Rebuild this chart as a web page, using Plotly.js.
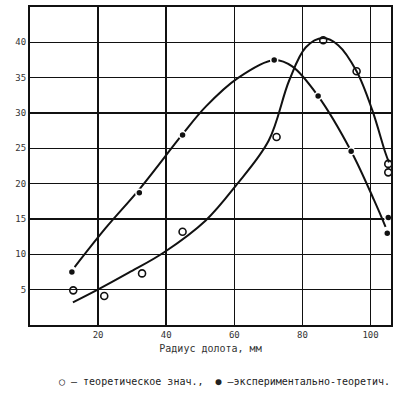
<!DOCTYPE html>
<html>
<head>
<meta charset="utf-8">
<script src="https://cdn.plot.ly/plotly-3.0.1.min.js"></script>
<style>html,body{margin:0;padding:0;background:#fff;}#chart{width:410px;height:408px;}</style>
</head>
<body>
<div id="chart"></div>
<script>
// Theoretical values (open circles)
var theoryX = [12.7, 21.8, 32.9, 44.8, 72.4, 86.1, 95.9, 105.2, 105.2];
var theoryY = [4.9, 4.1, 7.3, 13.2, 26.6, 40.3, 35.9, 22.8, 21.6];
// Experimental-theoretical values (filled circles)
var expX = [12.3, 32.1, 44.8, 71.7, 84.6, 94.3, 105.2, 104.9];
var expY = [7.5, 18.7, 26.9, 37.5, 32.4, 24.6, 15.2, 13.0];
// Hand-drawn curves
var theoryCurveX = [12.6, 19.9, 29.0, 39.4, 51.6, 60.4, 70.1, 76.1, 81.0, 86.0, 90.5, 95.9, 100.5, 104.4, 105.4];
var theoryCurveY = [3.2, 5.0, 7.4, 10.3, 14.8, 19.7, 26.1, 34.6, 39.3, 40.6, 39.6, 35.9, 30.4, 24.3, 23.0];
var expCurveX = [13.1, 22.0, 32.1, 44.8, 51.6, 60.9, 71.7, 77.0, 84.6, 94.3, 101.0, 104.4];
var expCurveY = [8.2, 13.6, 19.2, 27.0, 30.9, 34.9, 37.5, 36.6, 32.4, 24.6, 17.7, 13.9];
// Ticks and labels
var xTicks = [20, 40, 60, 80, 100];
var yTicks = [5, 10, 15, 20, 25, 30, 35, 40];
var xTitle = 'Радиус долота, мм';
var theoryName = 'теоретическое знач.,';
var expName = 'экспериментально-теоретич.';

var ink = '#111';
var traces = [
  {x: theoryCurveX, y: theoryCurveY, mode: 'lines', line: {color: ink, width: 2, shape: 'spline', smoothing: 1}, showlegend: false, hoverinfo: 'skip'},
  {x: expCurveX, y: expCurveY, mode: 'lines', line: {color: ink, width: 2, shape: 'spline', smoothing: 1}, showlegend: false, hoverinfo: 'skip'},
  {x: theoryX, y: theoryY, mode: 'markers', name: theoryName, showlegend: false,
   marker: {symbol: 'circle-open', size: 7, color: ink, line: {width: 1.6, color: ink}}},
  {x: expX, y: expY, mode: 'markers', name: expName, showlegend: false,
   marker: {symbol: 'circle', size: 7, color: ink, line: {width: 1.5, color: '#fff'}}}
];

var mono = 'DejaVu Sans Mono, monospace';
var fnt = {family: mono, size: 9, color: '#333'};
var layout = {
  width: 410, height: 408,
  margin: {l: 30, r: 19, t: 7, b: 83},
  paper_bgcolor: '#fff', plot_bgcolor: '#fff',
  font: fnt,
  showlegend: false,
  xaxis: {
    range: [0, 106], tickvals: xTicks, ticktext: xTicks.map(String),
    showgrid: true, gridcolor: ink, gridwidth: 1.6,
    zeroline: false, showline: true, linecolor: ink, linewidth: 2, mirror: true,
    ticks: '', tickfont: fnt,
    title: {text: xTitle, font: {family: mono, size: 10, color: '#333'}, standoff: 6}
  },
  yaxis: {
    range: [0, 45], tickvals: yTicks, ticktext: yTicks.map(String),
    showgrid: true, gridcolor: ink, gridwidth: 1.6,
    zeroline: false, showline: true, linecolor: ink, linewidth: 2, mirror: true,
    ticks: '', tickfont: fnt
  },
  annotations: [
    {xref: 'paper', yref: 'paper', x: 0.54, y: -0.179, xanchor: 'center', yanchor: 'middle',
     showarrow: false, font: {family: mono, size: 10, color: '#222'},
     text: '○ — ' + theoryName + '  ● —' + expName}
  ]
};

Plotly.newPlot('chart', traces, layout, {displayModeBar: false, staticPlot: true});
</script>
</body>
</html>
